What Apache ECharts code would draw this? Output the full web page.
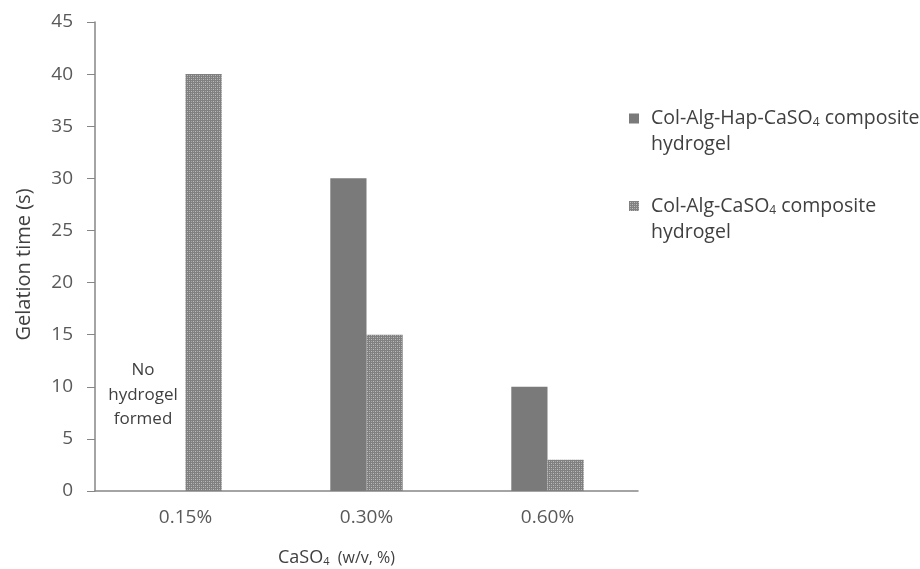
<!DOCTYPE html>
<html><head><meta charset="utf-8">
<script src="https://cdn.jsdelivr.net/npm/echarts@6/dist/echarts.min.js"></script>
<style>html,body{margin:0;padding:0;background:#fff}#c{width:920px;height:569px}</style>
</head><body><div id="c"></div>
<script>
const categories = ['0.15%', '0.30%', '0.60%'];
const seriesNames = ['Col-Alg-Hap-CaSO4 composite hydrogel', 'Col-Alg-CaSO4 composite hydrogel'];
const hapValues = [null, 30, 10];
const algValues = [40, 15, 3];
const yTicks = [0, 45, 5];

function makePattern() {
  const c = document.createElement('canvas');
  c.width = 4; c.height = 4;
  const ctx = c.getContext('2d');
  ctx.fillStyle = '#a6a6a6'; ctx.fillRect(0, 0, 4, 4);
  ctx.fillStyle = '#808080';
  ctx.fillRect(0, 0, 1, 4); ctx.fillRect(2, 0, 1, 4);
  ctx.fillRect(0, 0, 4, 1); ctx.fillRect(0, 2, 4, 1);
  ctx.fillStyle = '#bdbdbd';
  ctx.fillRect(1, 1, 1, 1); ctx.fillRect(3, 3, 1, 1);
  return c;
}
const FONT = '"Open Sans", sans-serif';
const TXT = '#404040';
const chart = echarts.init(document.getElementById('c'));
const legendRich = {
  g: { width: 7 },
  t: { fontSize: 19.5, color: TXT, fontFamily: FONT, lineHeight: 26 },
  s: { fontSize: 12, color: TXT, fontFamily: FONT, lineHeight: 26, padding: [9, 0, 0, 0] }
};
const legendIcon = 'path://M0,0h10v10h-10z M0,35.95h0.05v0.05h-0.05z';
chart.setOption({
  animation: false,
  textStyle: { fontFamily: FONT },
  grid: { left: 95, right: 282, top: 22, bottom: 78, outerBoundsMode: 'none', containLabel: false },
  legend: {
    orient: 'vertical', left: 629, top: 108, itemGap: 41, padding: 0,
    itemWidth: 10, itemHeight: 36, icon: legendIcon,
    data: seriesNames,
    formatter: function (n) {
      return n === seriesNames[0]
        ? '{g|}{t|Col-Alg-Hap-CaSO}{s|4}{t| composite}\n{g|}{t|hydrogel}'
        : '{g|}{t|Col-Alg-CaSO}{s|4}{t| composite}\n{g|}{t|hydrogel}';
    },
    textStyle: { rich: legendRich }
  },
  xAxis: {
    type: 'category', data: categories,
    axisLine: { lineStyle: { color: '#868686', width: 1.5 } },
    axisTick: { show: false },
    axisLabel: { fontSize: 19, color: '#595959', margin: 17, fontFamily: FONT },
    name: '{t|CaSO}{s|4}{u|  (w/v, %)}', nameLocation: 'middle', nameGap: 55,
    nameTextStyle: { padding: [0, 60, 0, 0], rich: {
      t: { fontSize: 18, color: TXT, fontFamily: FONT, lineHeight: 24 },
      s: { fontSize: 11, color: TXT, fontFamily: FONT, lineHeight: 24, padding: [8, 0, 0, 0] },
      u: { fontSize: 16, color: TXT, fontFamily: FONT, lineHeight: 24 }
    } }
  },
  yAxis: {
    type: 'value', min: yTicks[0], max: yTicks[1], interval: yTicks[2],
    axisLine: { show: true, lineStyle: { color: '#868686', width: 1.5 } },
    axisTick: { show: true, length: 8, lineStyle: { color: '#868686' } },
    splitLine: { show: false },
    axisLabel: { fontSize: 19, color: '#595959', margin: 22, fontFamily: FONT },
    name: 'Gelation time (s)', nameLocation: 'middle', nameGap: 61, nameRotate: 90,
    nameTextStyle: { fontSize: 20, color: TXT, fontFamily: FONT, padding: [0, 16, 0, 0] }
  },
  series: [
    {
      name: seriesNames[0], type: 'bar', data: hapValues,
      barGap: '0%', barCategoryGap: '60%',
      itemStyle: { color: '#7a7a7a' }
    },
    {
      name: seriesNames[1], type: 'bar', data: algValues,
      barGap: '0%', barCategoryGap: '60%',
      itemStyle: { color: { image: makePattern(), repeat: 'repeat' } }
    }
  ],
  graphic: [{
    type: 'text', x: 143, y: 358,
    style: { text: 'No\nhydrogel\nformed', fontSize: 17, lineHeight: 24.5, fill: TXT, align: 'center', fontFamily: FONT }
  }]
});
</script></body></html>
